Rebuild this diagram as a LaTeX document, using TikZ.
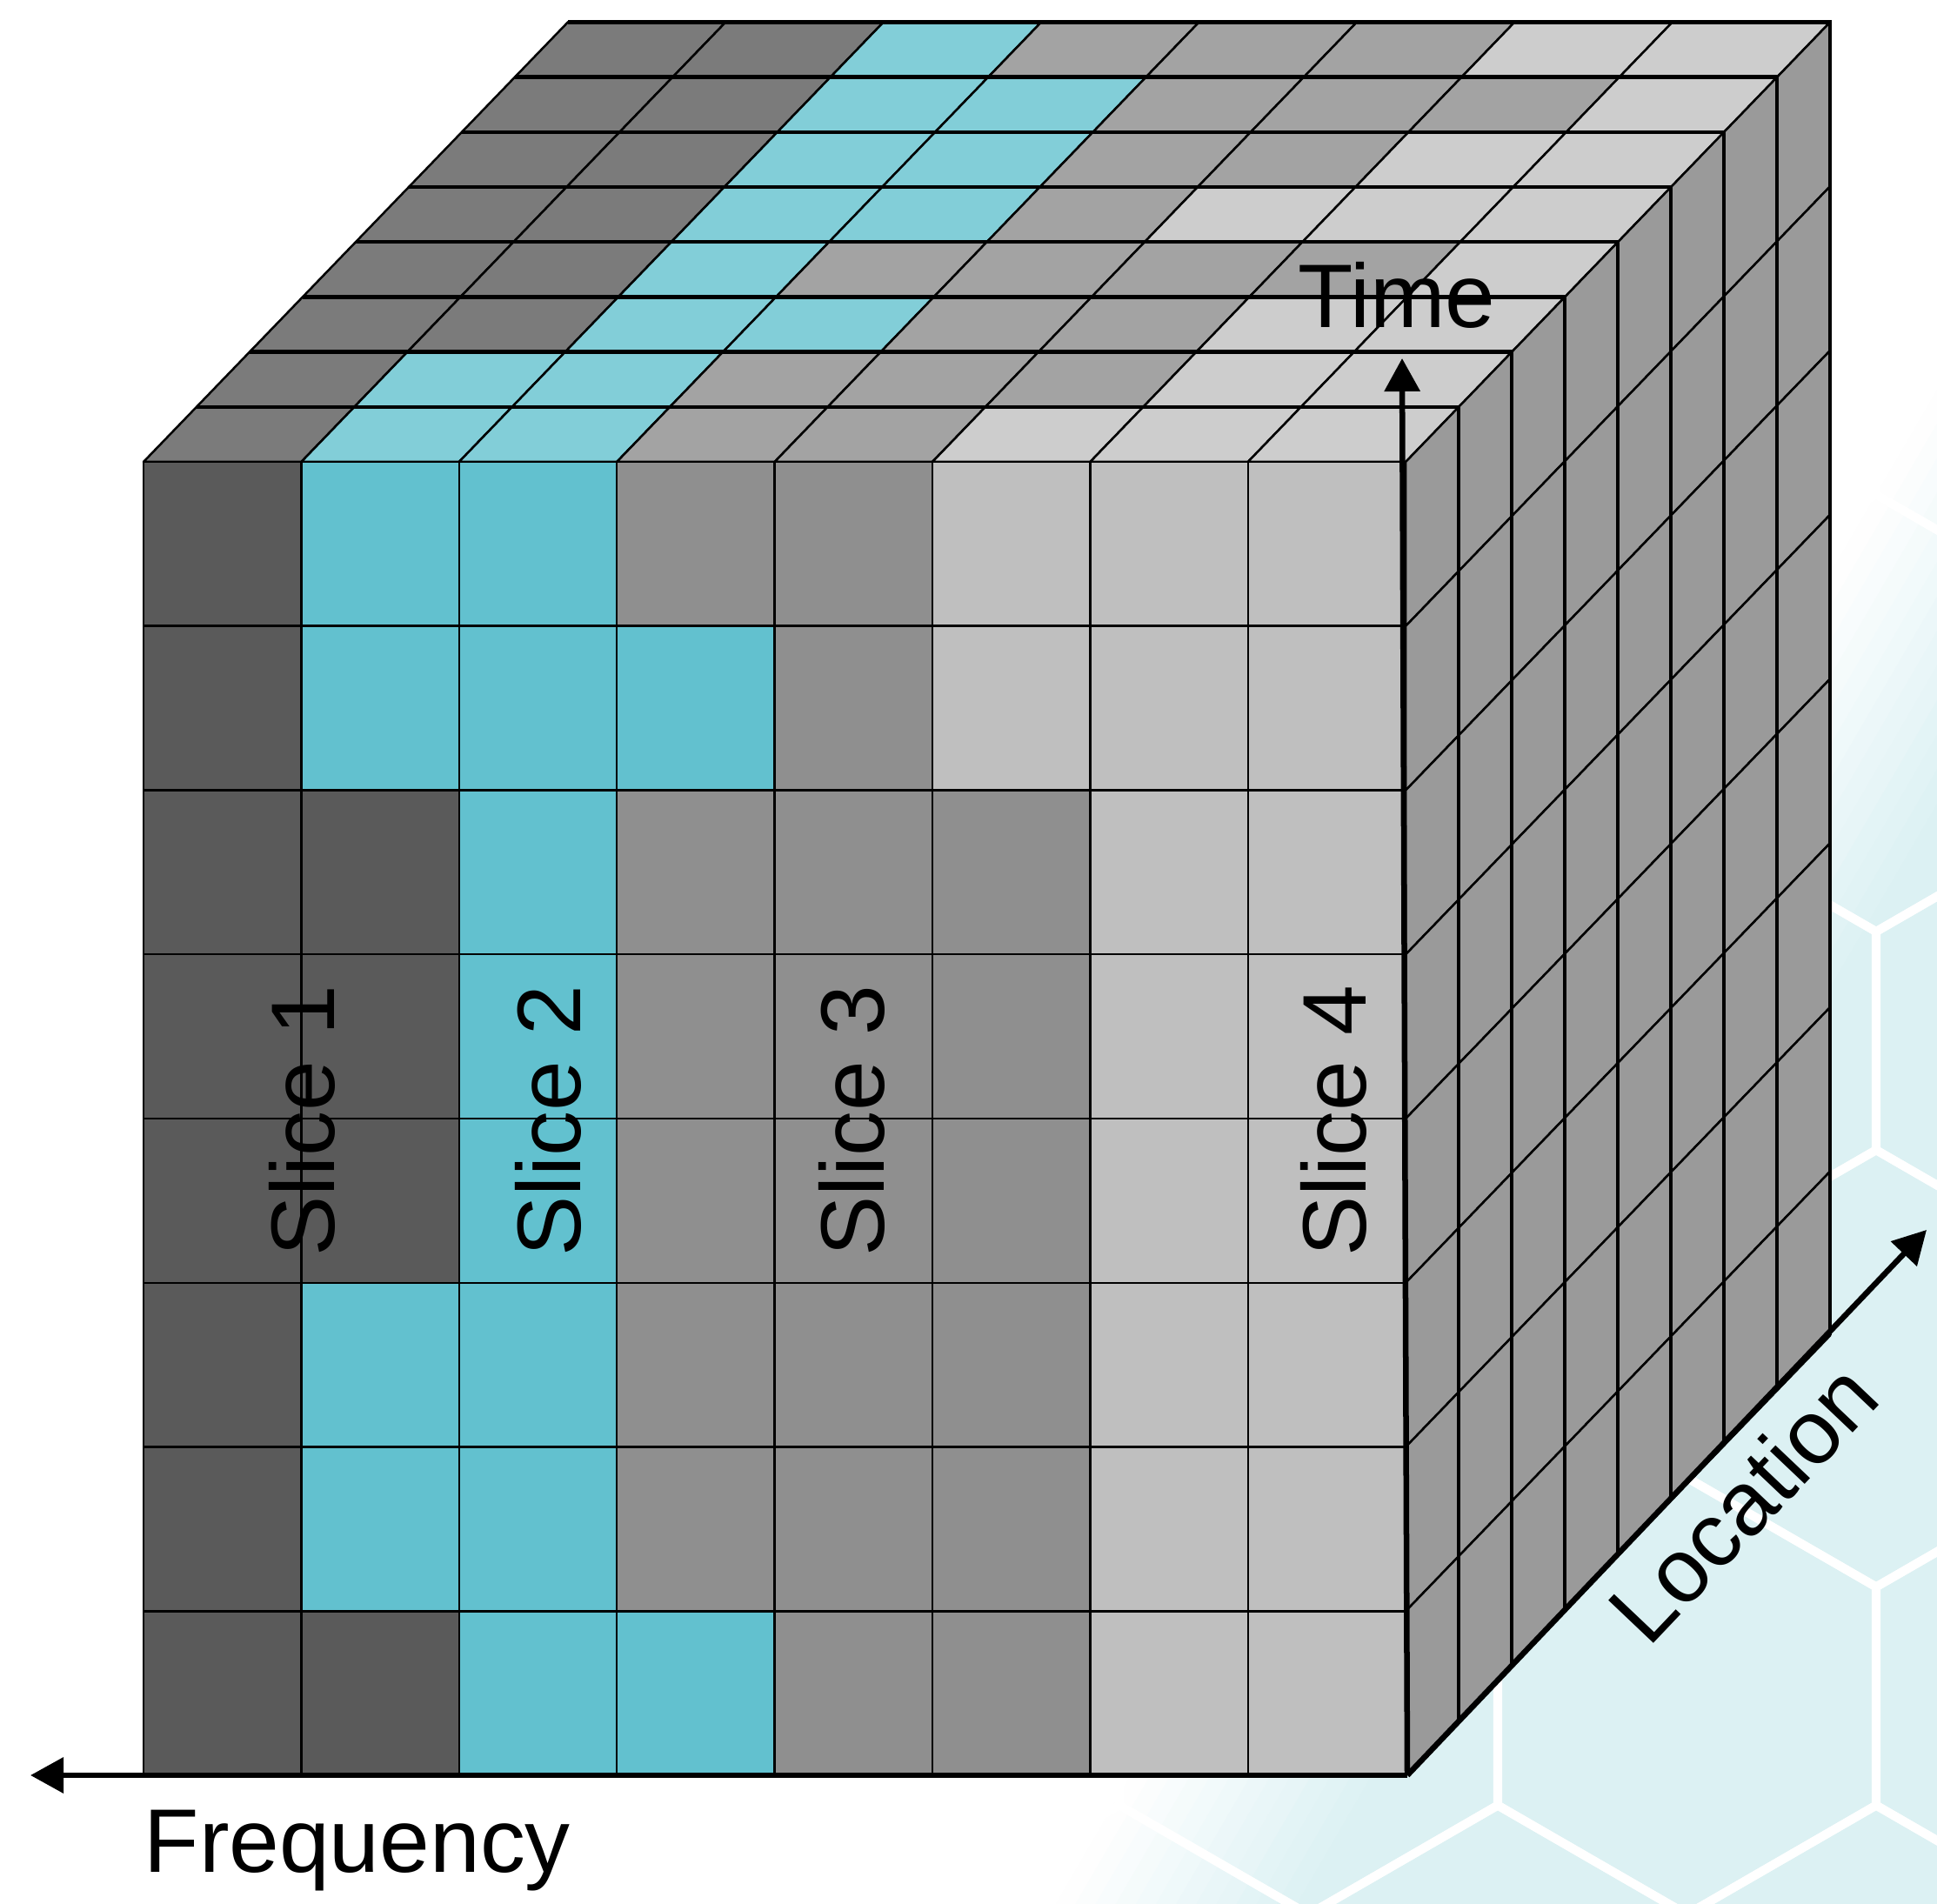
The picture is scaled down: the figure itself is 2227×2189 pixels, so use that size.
\documentclass[tikz,border=0pt]{standalone}
\usepackage{fontspec}
\setmainfont{Liberation Sans}
\usetikzlibrary{arrows.meta}

\definecolor{frontD}{HTML}{5A5A5A}
\definecolor{frontC}{HTML}{62C1CF}
\definecolor{frontM}{HTML}{8F8F8F}
\definecolor{frontL}{HTML}{BFBFBF}
\definecolor{topD}{HTML}{7B7B7B}
\definecolor{topC}{HTML}{82CED8}
\definecolor{topM}{HTML}{A3A3A3}
\definecolor{topL}{HTML}{CDCDCD}
\definecolor{sidegray}{HTML}{9A9A9A}
\definecolor{hexbg}{HTML}{DCF1F3}

\begin{document}
\begin{tikzpicture}[x=0.01cm,y=-0.01cm,>={Triangle[length=3.8mm,width=4mm]},
    gridcell/.style={draw=black,line width=0.25mm,line join=round},
    slabline/.style={line width=0.45mm},
    axisarrow/.style={->,line width=0.65mm},
    hexline/.style={white,line width=1mm},
    lbl/.style={font=\fontsize{29.5}{35}\selectfont,inner sep=0pt}]
    \useasboundingbox (0,0) rectangle (2227,2189);
    \begin{scope}
        \clip (0,0) rectangle (2227,2189);
        \begin{scope}[rotate=-30.2]
            \foreach \i [evaluate=\i as \pc using {int(100*(\i+0.5)/12)}] in {0,...,11}
                \fill[hexbg!\pc!white] ({2150+20*\i},-3000) rectangle ({2171+20*\i},3000);
            \fill[hexbg] (2390,-3000) rectangle (3400,3000);
        \end{scope}
        \foreach \r in {0,...,5}
            \foreach \c in {-2,...,3} {
                \pgfmathsetmacro\hx{1287+435*\c+217.5*mod(\r,2)}
                \pgfmathsetmacro\hy{2326.7-376.7*\r}
                \draw[hexline] (\hx,\hy) +(30:251.1) -- +(90:251.1) -- +(150:251.1)
                    -- +(210:251.1) -- +(270:251.1) -- +(330:251.1) -- cycle;
            }
    \end{scope}
    \foreach \row [count=\k from 0] in {{D,C,C,M,M,L,L,L},{D,C,C,M,M,M,L,L},
        {D,D,C,C,M,M,L,L},{D,D,C,M,M,M,M,L},{D,D,C,C,M,L,L,L},
        {D,D,C,C,M,M,L,L},{D,D,C,C,M,M,M,L},{D,D,C,M,M,M,L,L}}
        \foreach \c [count=\j from 0] in \row
            \filldraw[gridcell,fill=top\c] ({165+181.4*\j+61*\k},{531-63.2*\k})
                -- ++(181.4,0) -- ++(61,-63.2) -- ++(-181.4,0) -- cycle;
    \foreach \k in {0,...,7}
        \foreach \r in {0,...,7}
            \filldraw[gridcell,fill=sidegray] ({1616.2+61*\k},{531+188.75*\r-63.2*\k})
                -- ++(61,-63.2) -- ++(0,188.75) -- ++(-61,63.2) -- cycle;
    \foreach \row [count=\r from 0] in {{D,C,C,M,M,L,L,L},{D,C,C,C,M,L,L,L},
        {D,D,C,M,M,M,L,L},{D,D,C,M,M,M,L,L},{D,D,C,M,M,M,L,L},
        {D,C,C,M,M,M,L,L},{D,C,C,M,M,M,L,L},{D,D,C,C,M,M,L,L}}
        \foreach \c [count=\j from 0] in \row
            \filldraw[gridcell,fill=front\c] ({165+181.4*\j},{531+188.75*\r}) rectangle ++(181.4,188.75);
    \foreach \k in {1,...,8}
        \draw[slabline] ({165+61*\k},{531-63.2*\k}) -- ++(1451.2,0) -- ++(0,1510);

    \coordinate (corner) at (1618,2041);
    \coordinate (freqend) at (35,2041);
    \coordinate (timeend) at (1612,412);
    \coordinate (locend) at (2215,1414);
    \draw[axisarrow] (corner) -- (freqend);
    \draw[axisarrow] (corner) -- (timeend);
    \draw[axisarrow] (corner) -- (locend);

    \node[lbl,anchor=base west] (time) at (1492,377) {Time};
    \node[lbl,anchor=base west] (freq) at (165,2152) {Frequency};
    \node[lbl,anchor=base west,rotate=46.5] (loc) at (1895,1896) {Location};
    \node[lbl,anchor=base west,rotate=90] (slice1) at (384,1445) {Slice 1};
    \node[lbl,anchor=base west,rotate=90] (slice2) at (667,1445) {Slice 2};
    \node[lbl,anchor=base west,rotate=90] (slice3) at (1016,1445) {Slice 3};
    \node[lbl,anchor=base west,rotate=90] (slice4) at (1570,1445) {Slice 4};
\end{tikzpicture}
\end{document}
